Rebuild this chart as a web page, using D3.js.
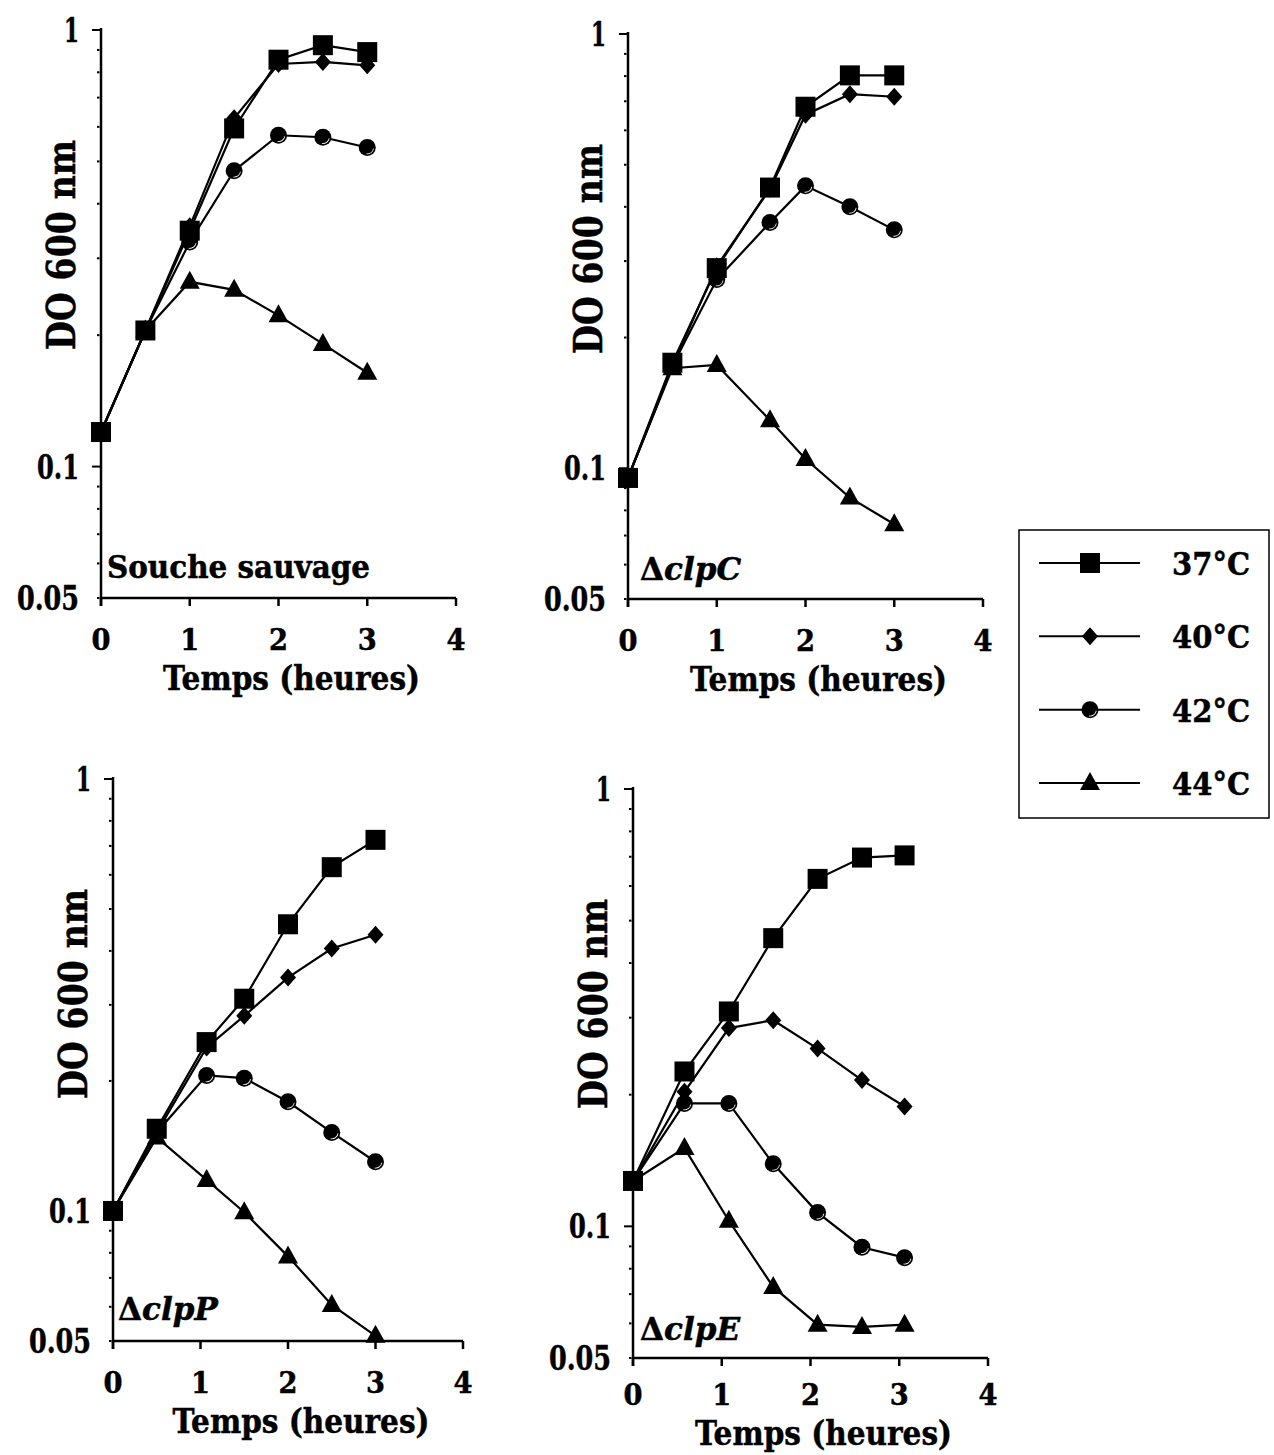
<!DOCTYPE html>
<html>
<head>
<meta charset="utf-8">
<script src="https://cdn.jsdelivr.net/npm/d3@7"></script>
<style>
  body { margin: 0; background: #fff; }
  svg text { font-family: "DejaVu Serif", "Liberation Serif", serif; font-weight: bold; fill: #000; stroke: #000; stroke-width: 0.5px; }
</style>
</head>
<body>
<div id="chart"></div>
<script>
// temperatures (series names)
const temps = ["37°C", "40°C", "42°C", "44°C"];
const yTickValues = [1, 0.1, 0.05];
const yTickLabels = ["1", "0.1", "0.05"];
const xTickValues = [0, 1, 2, 3, 4];

// Souche sauvage
const wtTimes = [0, 0.5, 1, 1.5, 2, 2.5, 3];
const wt37 = [0.120, 0.205, 0.347, 0.595, 0.855, 0.923, 0.890];
const wt40 = [0.120, 0.205, 0.355, 0.628, 0.836, 0.845, 0.830];
const wt42 = [0.120, 0.205, 0.327, 0.476, 0.574, 0.568, 0.538];
const wt44 = [0.120, 0.205, 0.265, 0.254, 0.222, 0.191, 0.164];

// ΔclpC
const clpCTimes = [0, 0.5, 1, 1.6, 2, 2.5, 3];
const clpC37 = [0.095, 0.175, 0.289, 0.443, 0.680, 0.803, 0.803];
const clpC40 = [0.095, 0.172, 0.292, 0.440, 0.652, 0.727, 0.717];
const clpC42 = [0.095, 0.172, 0.272, 0.368, 0.447, 0.400, 0.354];
const clpC44 = [0.095, 0.170, 0.173, 0.129, 0.105, 0.0856, 0.0743];

// ΔclpP
const clpPTimes = [0, 0.5, 1.07, 1.5, 2, 2.5, 3];
const clpP37 = [0.100, 0.155, 0.246, 0.310, 0.461, 0.625, 0.723];
const clpP40 = [0.100, 0.152, 0.239, 0.283, 0.347, 0.405, 0.436];
const clpP42 = [0.100, 0.152, 0.206, 0.203, 0.179, 0.152, 0.130];
const clpP44 = [0.100, 0.148, 0.118, 0.0993, 0.0785, 0.0606, 0.0514];

// ΔclpE
const clpETimes = [0, 0.58, 1.08, 1.58, 2.08, 2.58, 3.06];
const clpE37 = [0.127, 0.226, 0.310, 0.456, 0.623, 0.697, 0.705];
const clpE40 = [0.127, 0.203, 0.284, 0.296, 0.255, 0.216, 0.188];
const clpE42 = [0.127, 0.191, 0.191, 0.139, 0.1075, 0.0896, 0.0848];
const clpE44 = [0.127, 0.151, 0.103, 0.0727, 0.0596, 0.0589, 0.0596];

const width = 1274, height = 1455;
const svg = d3.select("#chart").append("svg")
    .attr("width", width)
    .attr("height", height);

const panels = [
    { times: wtTimes, series: [wt37, wt40, wt42, wt44], x0: 101, x1: 456, yTop: 30, yBot: 598,
      tickDy: 52, titleDy: 92,
      label: [{ t: "Souche sauvage", italic: false }], lx: 107, ly: 578, labelLen: 263 },
    { times: clpCTimes, series: [clpC37, clpC40, clpC42, clpC44], x0: 628, x1: 983, yTop: 34, yBot: 599,
      tickDy: 52, titleDy: 92,
      label: [{ t: "Δ", italic: false }, { t: "clpC", italic: true }], lx: 640, ly: 580 },
    { times: clpPTimes, series: [clpP37, clpP40, clpP42, clpP44], x0: 113, x1: 463, yTop: 779, yBot: 1341,
      tickDy: 52, titleDy: 92,
      label: [{ t: "Δ", italic: false }, { t: "clpP", italic: true }], lx: 118, ly: 1320 },
    { times: clpETimes, series: [clpE37, clpE40, clpE42, clpE44], x0: 633, x1: 988, yTop: 789, yBot: 1358,
      tickDy: 47, titleDy: 87,
      label: [{ t: "Δ", italic: false }, { t: "clpE", italic: true }], lx: 640, ly: 1340 }
];

// marker shapes, one per temperature
function marker(g, i, cx, cy) {
    if (i === 0) {
        g.append("rect").attr("x", cx - 10).attr("y", cy - 10).attr("width", 20).attr("height", 20).attr("fill", "#000");
    } else if (i === 1) {
        g.append("path").attr("d", `M${cx},${cy - 9}L${cx + 8},${cy}L${cx},${cy + 9}L${cx - 8},${cy}Z`).attr("fill", "#000");
    } else if (i === 2) {
        g.append("circle").attr("cx", cx).attr("cy", cy).attr("r", 8.5).attr("fill", "#000");
        g.append("path")
            .attr("d", d3.arc().innerRadius(6).outerRadius(6.8).startAngle(Math.PI * 0.55).endAngle(Math.PI * 1.05)())
            .attr("transform", `translate(${cx},${cy})`)
            .attr("fill", "#fff");
    } else {
        g.append("path").attr("d", `M${cx},${cy - 11}L${cx + 10},${cy + 7}L${cx - 10},${cy + 7}Z`).attr("fill", "#000");
    }
}

const yLabelLen = { "1": 15, "0.1": 42, "0.05": 62 };

panels.forEach(p => {
    const g = svg.append("g");
    const x = d3.scaleLinear().domain([0, 4]).range([p.x0, p.x1]);
    const y = d3.scaleLog().domain([0.05, 1]).range([p.yBot, p.yTop]);

    // minor ticks (dots)
    const minor = [0.06, 0.07, 0.08, 0.09, 0.2, 0.3, 0.4, 0.5, 0.6, 0.7, 0.8, 0.9, 0.05];
    g.selectAll(".minor").data(minor).join("line")
        .attr("x1", p.x0 - 4).attr("x2", p.x0 - 1.5)
        .attr("y1", d => y(d)).attr("y2", d => y(d))
        .attr("stroke", "#000").attr("stroke-width", 2);

    // major ticks
    g.selectAll(".major").data([1, 0.1]).join("line")
        .attr("x1", p.x0 - 9).attr("x2", p.x0)
        .attr("y1", d => y(d)).attr("y2", d => y(d))
        .attr("stroke", "#000").attr("stroke-width", 2);

    // y tick labels
    g.selectAll(".ylab").data(yTickValues).join("text")
        .attr("x", p.x0 - 22)
        .attr("y", d => y(d) + 12)
        .attr("text-anchor", "end")
        .attr("font-size", 33)
        .attr("textLength", (d, i) => yLabelLen[yTickLabels[i]])
        .attr("lengthAdjust", "spacingAndGlyphs")
        .text((d, i) => yTickLabels[i]);

    // axes lines
    g.append("line").attr("x1", p.x0).attr("x2", p.x0).attr("y1", p.yTop - 2).attr("y2", p.yBot + 8)
        .attr("stroke", "#000").attr("stroke-width", 2.5);
    g.append("line").attr("x1", p.x0).attr("x2", p.x1).attr("y1", p.yBot).attr("y2", p.yBot)
        .attr("stroke", "#000").attr("stroke-width", 2.5);

    g.selectAll(".xtick").data(xTickValues).join("line")
        .attr("x1", d => x(d)).attr("x2", d => x(d))
        .attr("y1", p.yBot).attr("y2", p.yBot + 8)
        .attr("stroke", "#000").attr("stroke-width", 2.5);

    g.selectAll(".xlab").data(xTickValues).join("text")
        .attr("x", d => x(d))
        .attr("y", p.yBot + p.tickDy)
        .attr("text-anchor", "middle")
        .attr("font-size", 30)
        .attr("textLength", 19)
        .attr("lengthAdjust", "spacingAndGlyphs")
        .text(d => d);

    // axis titles
    g.append("text")
        .attr("x", (p.x0 + p.x1) / 2 + 13)
        .attr("y", p.yBot + p.titleDy)
        .attr("text-anchor", "middle")
        .attr("font-size", 33)
        .attr("textLength", 257)
        .attr("lengthAdjust", "spacingAndGlyphs")
        .text("Temps (heures)");

    g.append("text")
        .attr("transform", `translate(${p.x0 - 26}, ${p.yTop + 215}) rotate(-90)`)
        .attr("text-anchor", "middle")
        .attr("font-size", 40)
        .attr("textLength", 210)
        .attr("lengthAdjust", "spacingAndGlyphs")
        .text("DO 600 nm");

    // panel label
    const lab = g.append("text").attr("x", p.lx).attr("y", p.ly).attr("font-size", 31);
    if (p.labelLen) lab.attr("textLength", p.labelLen).attr("lengthAdjust", "spacingAndGlyphs");
    p.label.forEach(s => {
        lab.append("tspan").attr("font-style", s.italic ? "italic" : "normal").text(s.t);
    });

    // lines, then markers with squares on top
    const line = d3.line().x((d, i) => x(p.times[i])).y(d => y(d));
    [3, 2, 1, 0].forEach(si => {
        g.append("path").datum(p.series[si])
            .attr("d", line)
            .attr("fill", "none")
            .attr("stroke", "#000")
            .attr("stroke-width", 2.2);
    });
    [3, 2, 1, 0].forEach(si => {
        const mg = g.append("g");
        p.series[si].forEach((v, i) => marker(mg, si, x(p.times[i]), y(v)));
    });
});

// legend
const leg = svg.append("g");
leg.append("rect").attr("x", 1019).attr("y", 530).attr("width", 250).attr("height", 288)
    .attr("fill", "none").attr("stroke", "#000").attr("stroke-width", 1.5);
const legY = d3.scalePoint().domain(temps).range([563, 783]);
temps.forEach((t, i) => {
    const yy = legY(t);
    leg.append("line").attr("x1", 1039).attr("x2", 1140).attr("y1", yy).attr("y2", yy)
        .attr("stroke", "#000").attr("stroke-width", 2);
    marker(leg, i, 1090, yy);
    leg.append("text").attr("x", 1172).attr("y", yy + 12).attr("font-size", 32)
        .attr("textLength", 78).attr("lengthAdjust", "spacingAndGlyphs").text(t);
});
</script>
</body>
</html>
